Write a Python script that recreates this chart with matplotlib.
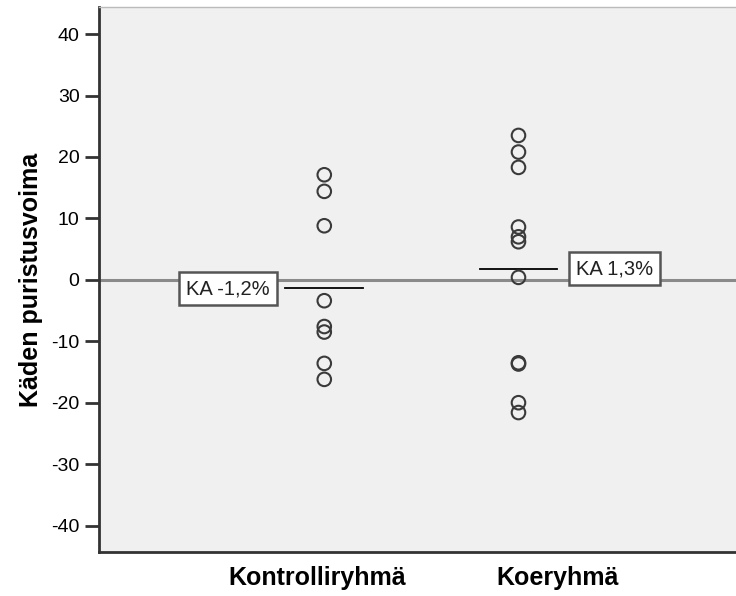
import matplotlib
matplotlib.use('Agg')
from matplotlib import pyplot as plt

plt.rcParams['font.family'] = ['Liberation Sans', 'DejaVu Sans']
plt.rcParams['axes.unicode_minus'] = False

groups = ['Kontrolliryhmä', 'Koeryhmä']
kontrolli = [17.1, 14.4, 8.8, -3.4, -7.6, -8.5, -13.6, -16.2]
koe = [23.5, 20.8, 18.3, 8.6, 7.0, 6.2, 0.4, -13.5, -13.7, -20.0, -21.6]
means = [-1.35, 1.74]
mean_labels = ['KA -1,2%', 'KA 1,3%']

fig = plt.figure(figsize=(7.36, 5.96), dpi=100)
ax = fig.add_axes([0.1345, 0.0738, 0.8655, 0.9144])
ax.set_facecolor('#f0f0f0')

# reference line at zero
ax.axhline(0, color='#8a8a8a', linewidth=2.2, zorder=1)

for i, vals in enumerate([kontrolli, koe]):
    x = i + 1
    ax.scatter([x] * len(vals), vals, s=95, facecolors='none',
               edgecolors='#3a3a3a', linewidths=1.5, zorder=3)
    ax.plot([x - 0.2, x + 0.2], [means[i], means[i]], color='black',
            linewidth=1.3, zorder=2)

box = dict(boxstyle='square,pad=0.35', facecolor='white', edgecolor='#555555', linewidth=1.8)
ax.text(0.505, means[0] - 0.1, mean_labels[0], ha='center', va='center',
        fontsize=14.5, color='#222222', bbox=box, zorder=4)
ax.text(2.495, means[1] + 0.1, mean_labels[1], ha='center', va='center',
        fontsize=14.5, color='#222222', bbox=box, zorder=4)

ax.set_xlim(-0.16, 3.12)
ax.set_ylim(-44.3, 44.4)
ax.set_yticks([-40, -30, -20, -10, 0, 10, 20, 30, 40])
ax.tick_params(axis='y', length=10, width=2, color='#333333', labelsize=14, pad=4)
ax.set_xticks([0.966, 2.2])
ax.set_xticklabels(groups, fontsize=18, fontweight='bold')
ax.tick_params(axis='x', length=0, pad=10)

ax.set_ylabel('Käden puristusvoima', fontsize=18, fontweight='bold', labelpad=6)

for side in ['left', 'bottom']:
    ax.spines[side].set_linewidth(2)
    ax.spines[side].set_color('#333333')
ax.spines['top'].set_color('#bbbbbb')
ax.spines['top'].set_linewidth(1)
ax.spines['right'].set_visible(False)

fig.savefig('out.png', dpi=100)
